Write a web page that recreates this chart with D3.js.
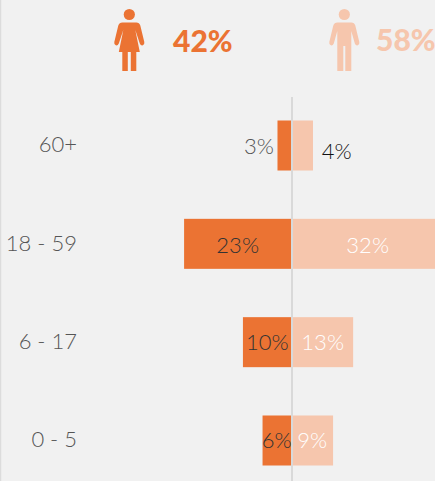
<!DOCTYPE html>
<html><head><meta charset="utf-8">
<script src="https://cdnjs.cloudflare.com/ajax/libs/d3/7.8.5/d3.min.js"></script>
<style>html,body{margin:0;padding:0;background:#f1f1f1;overflow:hidden}svg{display:block}
text{font-family:"Lato",sans-serif;font-weight:300}</style></head><body>
<script>
const ageGroups = ["60+", "18 - 59", "6 - 17", "0 - 5"];
const femaleValues = [3, 23, 10.4, 6.2];
const maleValues = [4.6, 32, 13.2, 8.9];
const femaleLabels = ["3%", "23%", "10%", "6%"];
const maleLabels = ["4%", "32%", "13%", "9%"];
const femaleTotal = "42%";
const maleTotal = "58%";
const orange = "#eb7333", peach = "#f6c6ad";
const W = 435, H = 481, cx = 291.5;

const svg = d3.select("body").append("svg").attr("width", W).attr("height", H);
svg.append("rect").attr("width", W).attr("height", H).attr("fill", "#f1f1f1");
svg.append("rect").attr("x", 0).attr("y", 0).attr("width", 1.2).attr("height", H).attr("fill", "#dcdcdc");

const y = d3.scaleBand().domain(ageGroups).range([120.5, 465.5]).paddingInner(0.4915).paddingOuter(0);
const xF = d3.scaleLinear().domain([0, 10]).range([cx, cx - 46.7]);
const xM = d3.scaleLinear().domain([0, 10]).range([cx, cx + 46.7]);

const rows = ageGroups.map((a, i) => ({a, f: femaleValues[i], m: maleValues[i], fl: femaleLabels[i], ml: maleLabels[i]}));

svg.selectAll(".f").data(rows).join("rect").attr("class", "f")
  .attr("x", d => xF(d.f)).attr("y", d => y(d.a)).attr("width", d => cx - xF(d.f)).attr("height", y.bandwidth()).attr("fill", orange);
svg.selectAll(".m").data(rows).join("rect").attr("class", "m")
  .attr("x", cx).attr("y", d => y(d.a)).attr("width", d => xM(d.m) - cx).attr("height", y.bandwidth()).attr("fill", peach);

svg.append("rect").attr("x", 291).attr("y", 97).attr("width", 2).attr("height", H - 97).attr("fill", "#d9d9d9");

const mid = d => y(d.a) + y.bandwidth() / 2;
svg.selectAll(".cat").data(rows).join("text").attr("class", "cat")
  .attr("x", 77).attr("y", d => mid(d) - 1).attr("dy", "0.35em").attr("text-anchor", "end")
  .attr("font-size", 22).attr("fill", "#555").text(d => d.a);

const fx = [259, 237.7, 267.3, 276.7], fy = [0.5, 1, 0.5, -0.3];
svg.selectAll(".fl").data(rows).join("text").attr("class", "fl")
  .attr("x", (d, i) => fx[i]).attr("y", (d, i) => mid(d) + fy[i]).attr("dy", "0.35em").attr("text-anchor", "middle")
  .attr("font-size", 22).attr("fill", (d, i) => i === 0 ? "#555" : "#333").text(d => d.fl);

const mx = [336.7, 367.7, 322.7, 312.3], my = [5.5, 1, 0.5, -0.3];
svg.selectAll(".ml").data(rows).join("text").attr("class", "ml")
  .attr("x", (d, i) => mx[i]).attr("y", (d, i) => mid(d) + my[i]).attr("dy", "0.35em").attr("text-anchor", "middle")
  .attr("font-size", 22).attr("fill", (d, i) => i === 0 ? "#111" : "#fff").text(d => d.ml);

const head = (g, c) => g.append("circle").attr("cx", 0).attr("cy", 14.5).attr("r", 5.6).attr("fill", c);
const woman = svg.append("g").attr("transform", "translate(129.3,0)");
head(woman, orange);
woman.append("path").attr("fill", orange).attr("d",
 "M-7,22.5 H7 Q10,22.5 11,25.5 L15,42 Q15.5,44.5 13.5,45.3 Q11.5,45.8 10.5,43.5 L6,30 L10.5,52 H-10.5 L-6,30 L-10.5,43.5 Q-11.5,45.8 -13.5,45.3 Q-15.5,44.5 -15,42 L-11,25.5 Q-10,22.5 -7,22.5 Z");
woman.append("rect").attr("x", 1.5).attr("y", 51).attr("width", 5.5).attr("height", 20).attr("fill", orange);
woman.append("rect").attr("x", -7).attr("y", 51).attr("width", 5.5).attr("height", 20).attr("fill", orange);
const man = svg.append("g").attr("transform", "translate(344.3,0)");
head(man, peach);
man.append("path").attr("fill", peach).attr("d",
 "M-7,22.5 H7 Q10,22.5 11,25.5 L15,42 Q15.5,44.5 13.5,45.3 Q11.5,45.8 10.5,43.5 L7,31 V71 H1 V46 H-1 V71 H-7 V31 L-10.5,43.5 Q-11.5,45.8 -13.5,45.3 Q-15.5,44.5 -15,42 L-11,25.5 Q-10,22.5 -7,22.5 Z");

svg.append("text").attr("x", 173).attr("y", 51.5).attr("font-size", 30).style("font-family", "Lato").style("font-weight", 900).attr("fill", orange).text(femaleTotal);
svg.append("text").attr("x", 376).attr("y", 50.5).attr("font-size", 30).style("font-family", "Lato").style("font-weight", 900).attr("fill", peach).text(maleTotal);
</script></body></html>
